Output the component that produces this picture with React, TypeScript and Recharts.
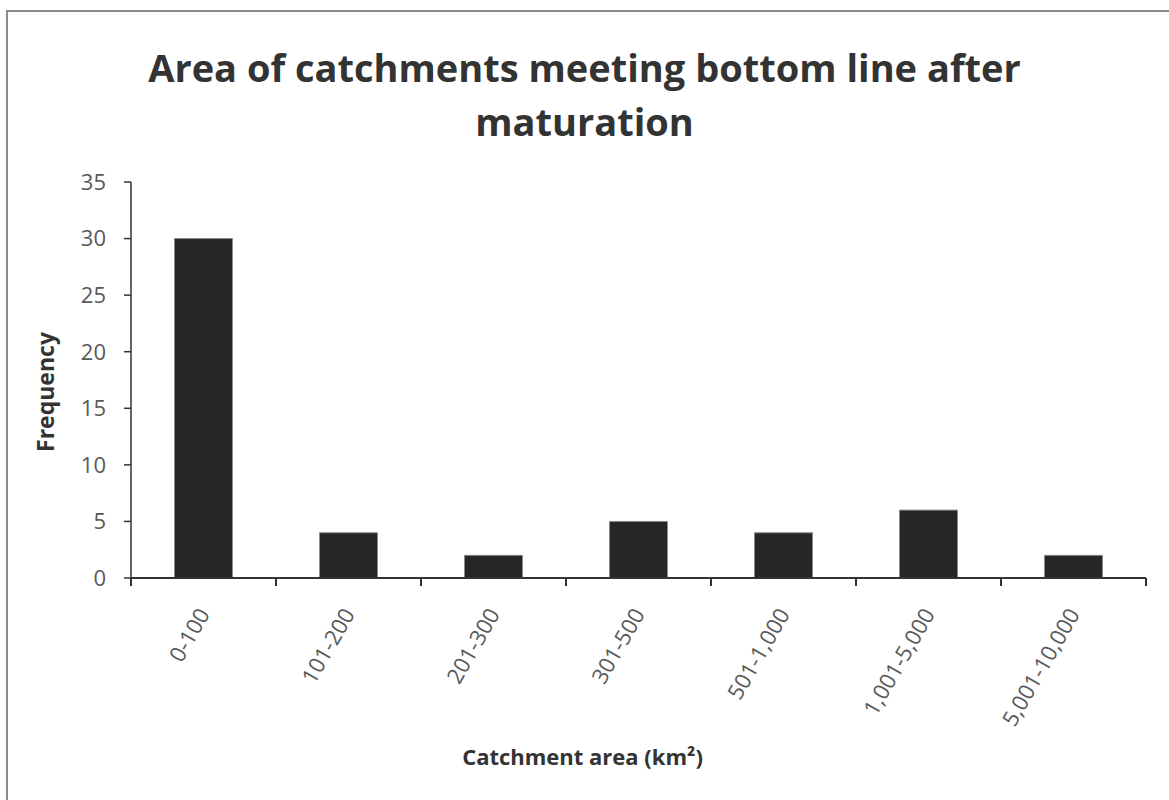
import { BarChart, Bar, XAxis, YAxis } from "recharts";

const categories = ["0-100", "101-200", "201-300", "301-500", "501-1,000", "1,001-5,000", "5,001-10,000"];
const frequency = [30, 4, 2, 5, 4, 6, 2];
const yTicks = [0, 5, 10, 15, 20, 25, 30, 35];

const data = categories.map((range, i) => ({ range, frequency: frequency[i] }));

const FONT = "'Open Sans', sans-serif";

// x ticks sit between categories (Excel style), labels rotated under each bar
function RangeTick(props: any) {
  const { x, y, payload, index, width, visibleTicksCount } = props;
  const band = width && visibleTicksCount ? width / visibleTicksCount : 145;
  const left = x - band / 2;
  const right = x + band / 2;
  return (
    <g>
      <line x1={left} y1={y} x2={left} y2={y + 8} stroke="#333" strokeWidth={2} />
      {index === visibleTicksCount - 1 && (
        <line x1={right} y1={y} x2={right} y2={y + 8} stroke="#333" strokeWidth={2} />
      )}
      <text
        x={x + 7}
        y={y + 36}
        textAnchor="end"
        transform={`rotate(-60, ${x + 7}, ${y + 36})`}
        fill="#595959"
        fontSize={22}
        fontFamily={FONT}
      >
        {payload.value}
      </text>
    </g>
  );
}

// vertical axis title, placed by hand to the left of the tick labels
function FrequencyLabel(props: any) {
  const vb = props.viewBox || { x: 0, y: 182, width: 131, height: 396 };
  const cx = vb.x + 54;
  const cy = vb.y + vb.height / 2 + 12;
  return (
    <text
      x={cx}
      y={cy}
      textAnchor="middle"
      transform={`rotate(-90, ${cx}, ${cy})`}
      fill="#333"
      fontSize={23}
      fontWeight={700}
      fontFamily={FONT}
    >
      Frequency
    </text>
  );
}

export default function App() {
  return (
    <div style={{ position: "fixed", left: 0, top: 0, width: 1169, height: 800, background: "#fff", overflow: "hidden" }}>
      <div style={{ position: "absolute", left: 6, top: 10, width: 1200, height: 820, border: "2px solid #8c8c8c" }} />

      {/* title */}
      <div
        style={{
          position: "absolute",
          left: 0,
          top: 40,
          width: 1169,
          textAlign: "center",
          fontFamily: FONT,
          fontWeight: 700,
          fontSize: 38,
          lineHeight: "54px",
          color: "#333",
        }}
      >
        Area of catchments meeting bottom line after
        <br />
        maturation
      </div>

      <div style={{ position: "absolute", left: 0, top: 0 }}>
        <BarChart
          width={1169}
          height={800}
          data={data}
          margin={{ top: 182, right: 23, bottom: 0, left: 0 }}
          barCategoryGap="30%"
        >
          <XAxis
            dataKey="range"
            axisLine={{ stroke: "#333", strokeWidth: 2 }}
            tickLine={false}
            tickSize={0}
            tickMargin={0}
            interval={0}
            height={222}
            tick={<RangeTick />}
            label={{
              value: "Catchment area (km²)",
              position: "insideBottom",
              offset: 35,
              dx: -56,
              fill: "#333",
              fontSize: 22,
              fontWeight: 700,
              fontFamily: FONT,
            }}
          />
          <YAxis
            width={131}
            domain={[0, 35]}
            ticks={yTicks}
            interval={0}
            axisLine={{ stroke: "#333", strokeWidth: 1.5 }}
            tickLine={{ stroke: "#333", strokeWidth: 1.5 }}
            tickSize={7}
            tickMargin={18}
            tick={{ fill: "#595959", fontSize: 22, fontFamily: FONT }}
            label={<FrequencyLabel />}
          />
          <Bar dataKey="frequency" fill="#262626" stroke="#8c8c8c" strokeWidth={1} isAnimationActive={false} />
        </BarChart>
      </div>
    </div>
  );
}
